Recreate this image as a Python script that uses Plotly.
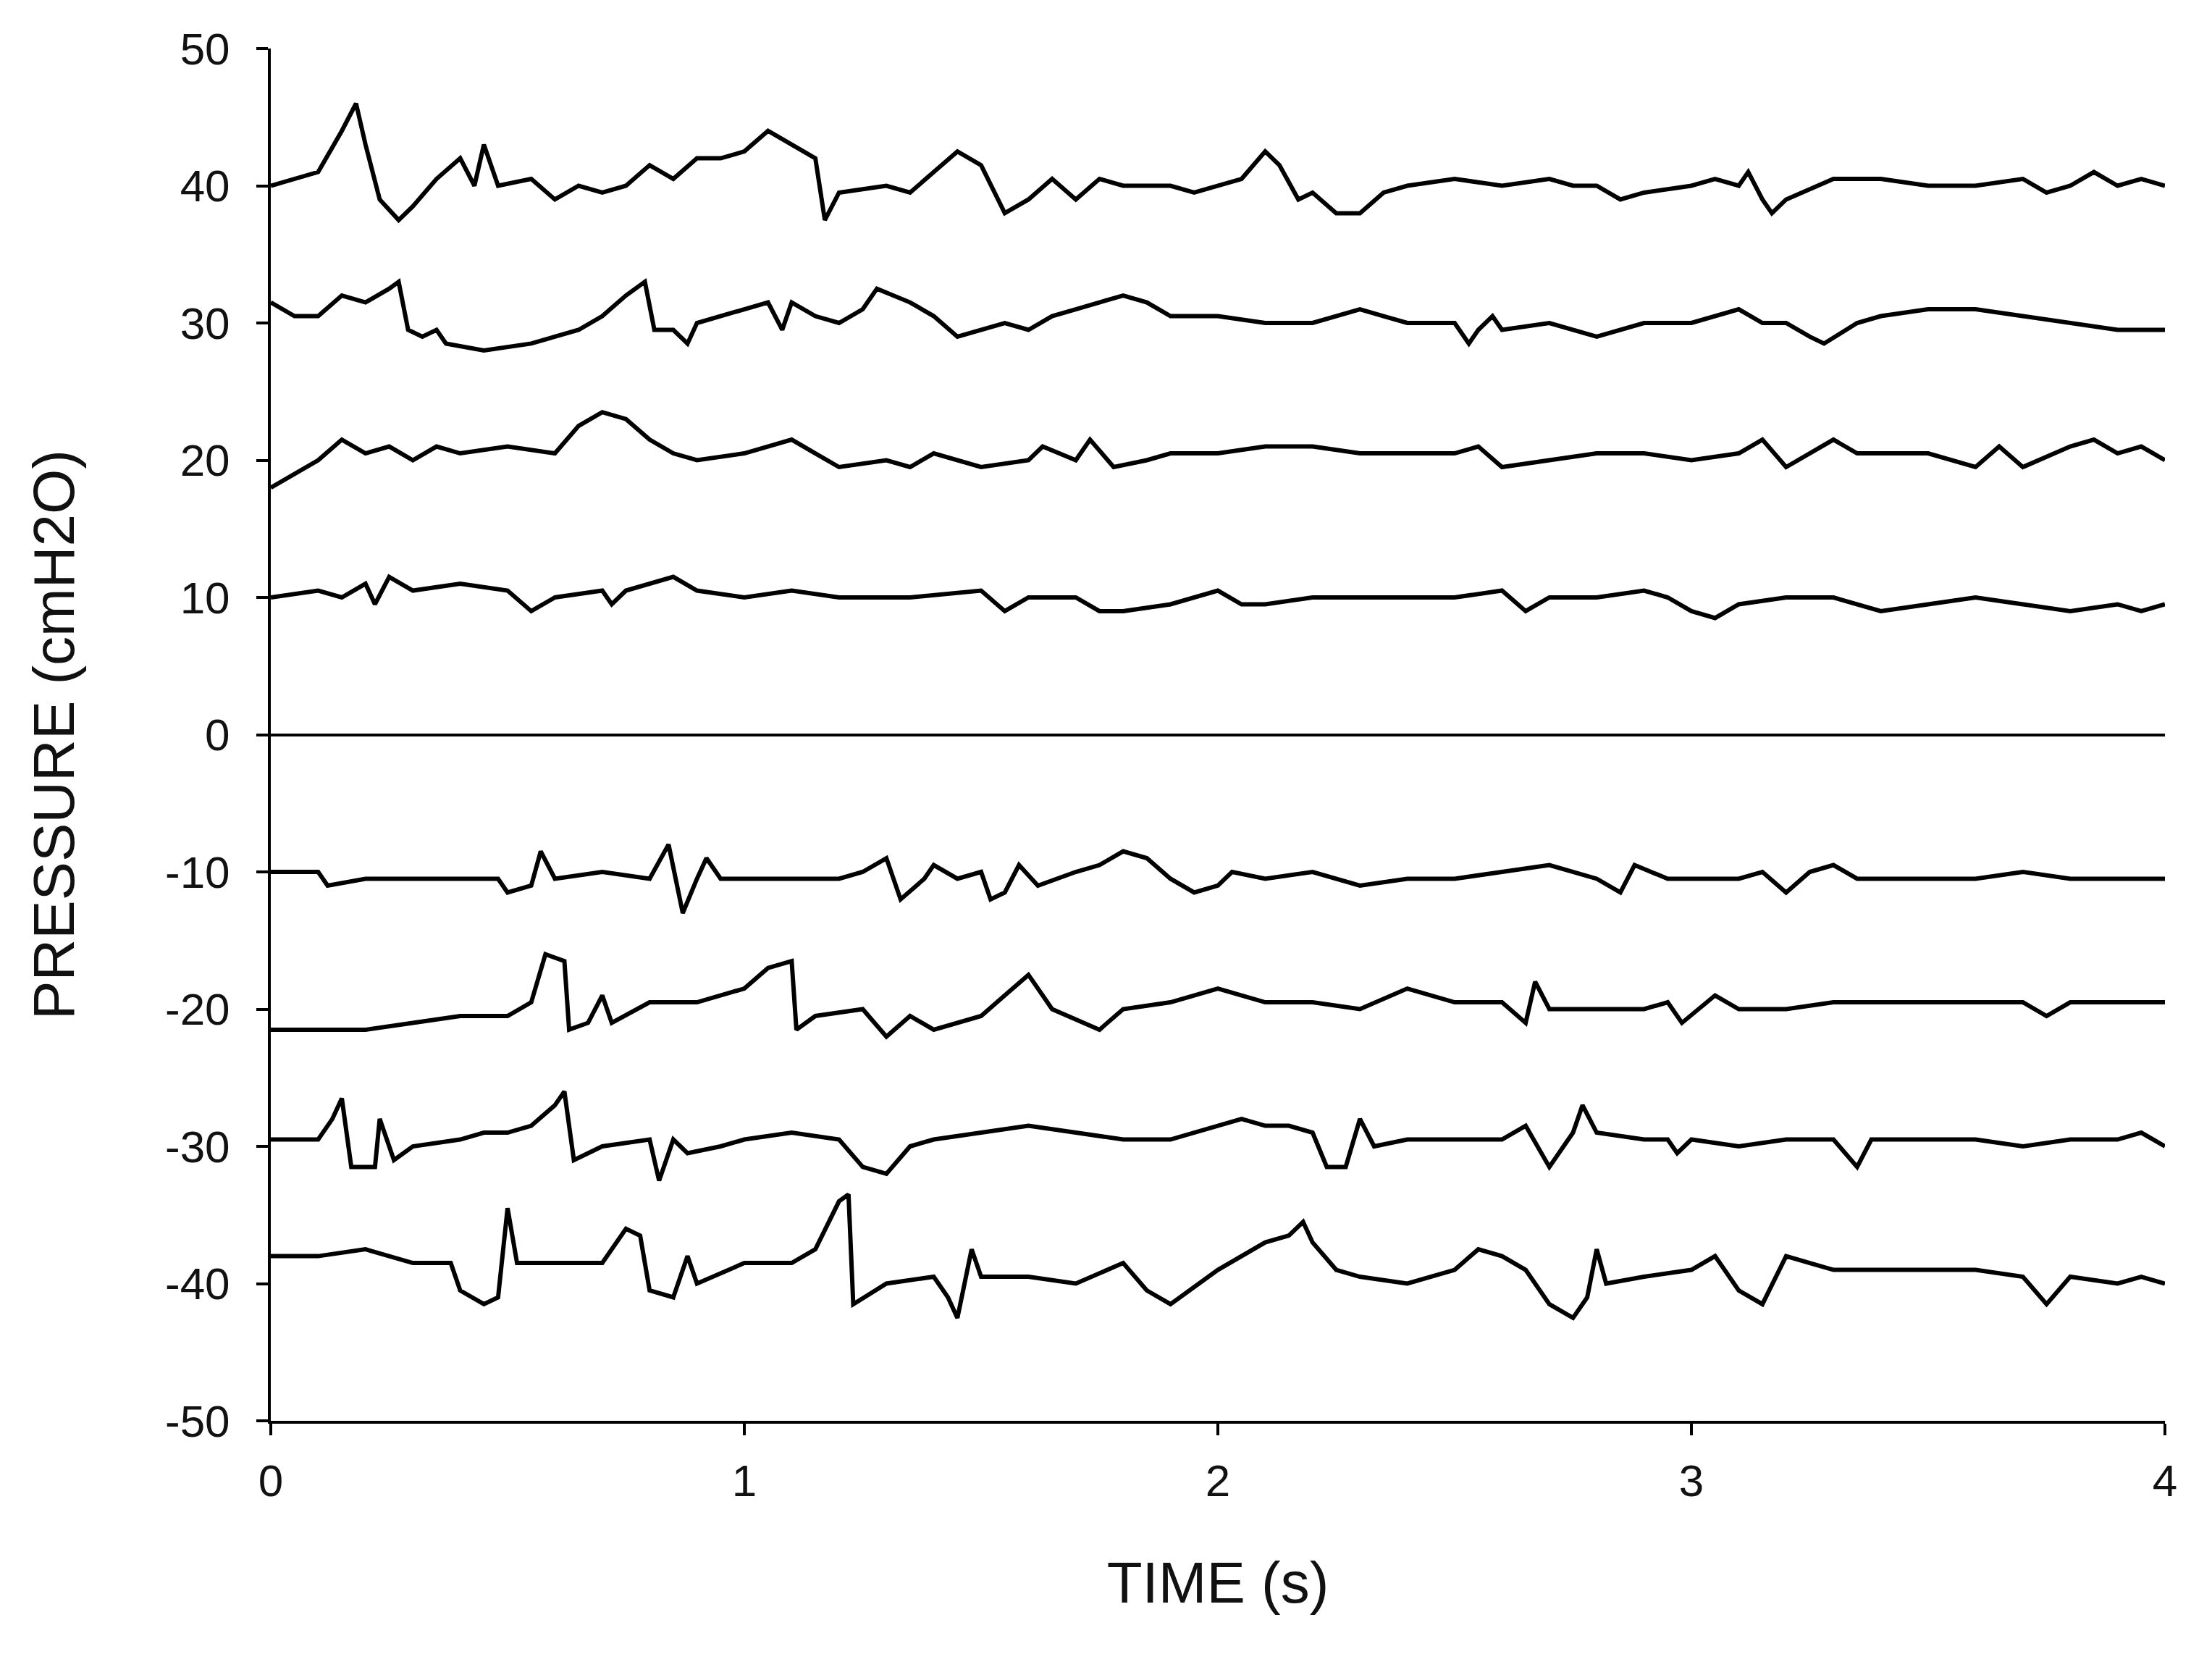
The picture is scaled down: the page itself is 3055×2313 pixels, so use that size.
import plotly.graph_objects as go

# Time points (s) and pressure readings (cmH2O), one pair of lists per trace
t1 = [0, 0.05, 0.1, 0.15, 0.18, 0.2, 0.23, 0.27, 0.3, 0.35, 0.4, 0.43, 0.45, 0.48, 0.55, 0.6, 0.65, 0.7, 0.75, 0.8, 0.85, 0.9, 0.95, 1.0, 1.05, 1.1, 1.15, 1.17, 1.2, 1.3, 1.35, 1.4, 1.45, 1.5, 1.55, 1.6, 1.65, 1.7, 1.75, 1.8, 1.9, 1.95, 2.0, 2.05, 2.1, 2.13, 2.17, 2.2, 2.25, 2.3, 2.35, 2.4, 2.5, 2.6, 2.7, 2.75, 2.8, 2.85, 2.9, 3.0, 3.05, 3.1, 3.12, 3.15, 3.17, 3.2, 3.3, 3.4, 3.5, 3.6, 3.7, 3.75, 3.8, 3.85, 3.9, 3.95, 4.0]
p1 = [40, 40.5, 41, 44, 46, 43, 39, 37.5, 38.5, 40.5, 42, 40, 43, 40, 40.5, 39, 40, 39.5, 40, 41.5, 40.5, 42, 42, 42.5, 44, 43, 42, 37.5, 39.5, 40, 39.5, 41, 42.5, 41.5, 38, 39, 40.5, 39, 40.5, 40, 40, 39.5, 40, 40.5, 42.5, 41.5, 39, 39.5, 38, 38, 39.5, 40, 40.5, 40, 40.5, 40, 40, 39, 39.5, 40, 40.5, 40, 41, 39, 38, 39, 40.5, 40.5, 40, 40, 40.5, 39.5, 40, 41, 40, 40.5, 40]

t2 = [0, 0.05, 0.1, 0.15, 0.2, 0.25, 0.27, 0.29, 0.32, 0.35, 0.37, 0.45, 0.55, 0.65, 0.7, 0.75, 0.79, 0.81, 0.85, 0.88, 0.9, 1.0, 1.05, 1.08, 1.1, 1.15, 1.2, 1.25, 1.28, 1.35, 1.4, 1.45, 1.5, 1.55, 1.6, 1.65, 1.7, 1.75, 1.8, 1.85, 1.9, 2.0, 2.1, 2.2, 2.3, 2.35, 2.4, 2.5, 2.53, 2.55, 2.58, 2.6, 2.7, 2.8, 2.9, 3.0, 3.05, 3.1, 3.15, 3.2, 3.25, 3.28, 3.35, 3.4, 3.5, 3.6, 3.7, 3.8, 3.9, 4.0]
p2 = [31.5, 30.5, 30.5, 32, 31.5, 32.5, 33, 29.5, 29, 29.5, 28.5, 28, 28.5, 29.5, 30.5, 32, 33, 29.5, 29.5, 28.5, 30, 31, 31.5, 29.5, 31.5, 30.5, 30, 31, 32.5, 31.5, 30.5, 29, 29.5, 30, 29.5, 30.5, 31, 31.5, 32, 31.5, 30.5, 30.5, 30, 30, 31, 30.5, 30, 30, 28.5, 29.5, 30.5, 29.5, 30, 29, 30, 30, 30.5, 31, 30, 30, 29, 28.5, 30, 30.5, 31, 31, 30.5, 30, 29.5, 29.5]

t3 = [0, 0.05, 0.1, 0.15, 0.2, 0.25, 0.3, 0.35, 0.4, 0.5, 0.6, 0.65, 0.7, 0.75, 0.8, 0.85, 0.9, 1.0, 1.1, 1.15, 1.2, 1.3, 1.35, 1.4, 1.5, 1.6, 1.63, 1.7, 1.73, 1.78, 1.85, 1.9, 2.0, 2.1, 2.2, 2.3, 2.4, 2.5, 2.55, 2.6, 2.7, 2.8, 2.9, 3.0, 3.1, 3.15, 3.2, 3.25, 3.3, 3.35, 3.5, 3.6, 3.65, 3.7, 3.8, 3.85, 3.9, 3.95, 4.0]
p3 = [18, 19, 20, 21.5, 20.5, 21, 20, 21, 20.5, 21, 20.5, 22.5, 23.5, 23, 21.5, 20.5, 20, 20.5, 21.5, 20.5, 19.5, 20, 19.5, 20.5, 19.5, 20, 21, 20, 21.5, 19.5, 20, 20.5, 20.5, 21, 21, 20.5, 20.5, 20.5, 21, 19.5, 20, 20.5, 20.5, 20, 20.5, 21.5, 19.5, 20.5, 21.5, 20.5, 20.5, 19.5, 21, 19.5, 21, 21.5, 20.5, 21, 20]

t4 = [0, 0.1, 0.15, 0.2, 0.22, 0.25, 0.3, 0.4, 0.5, 0.55, 0.6, 0.7, 0.72, 0.75, 0.85, 0.9, 1.0, 1.1, 1.2, 1.35, 1.5, 1.55, 1.6, 1.7, 1.75, 1.8, 1.9, 2.0, 2.05, 2.1, 2.2, 2.3, 2.4, 2.5, 2.6, 2.65, 2.7, 2.8, 2.9, 2.95, 3.0, 3.05, 3.1, 3.2, 3.3, 3.4, 3.5, 3.6, 3.7, 3.8, 3.9, 3.95, 4.0]
p4 = [10, 10.5, 10, 11, 9.5, 11.5, 10.5, 11, 10.5, 9, 10, 10.5, 9.5, 10.5, 11.5, 10.5, 10, 10.5, 10, 10, 10.5, 9, 10, 10, 9, 9, 9.5, 10.5, 9.5, 9.5, 10, 10, 10, 10, 10.5, 9, 10, 10, 10.5, 10, 9, 8.5, 9.5, 10, 10, 9, 9.5, 10, 9.5, 9, 9.5, 9, 9.5]

t5 = [0, 0.05, 0.1, 0.12, 0.2, 0.3, 0.4, 0.48, 0.5, 0.55, 0.57, 0.6, 0.7, 0.8, 0.84, 0.87, 0.9, 0.92, 0.95, 1.0, 1.1, 1.2, 1.25, 1.3, 1.33, 1.38, 1.4, 1.45, 1.5, 1.52, 1.55, 1.58, 1.62, 1.7, 1.75, 1.8, 1.85, 1.9, 1.95, 2.0, 2.03, 2.1, 2.2, 2.3, 2.4, 2.5, 2.6, 2.7, 2.8, 2.85, 2.88, 2.95, 3.0, 3.1, 3.15, 3.2, 3.25, 3.3, 3.35, 3.5, 3.6, 3.7, 3.8, 3.9, 4.0]
p5 = [-10, -10, -10, -11, -10.5, -10.5, -10.5, -10.5, -11.5, -11, -8.5, -10.5, -10, -10.5, -8, -13, -10.5, -9, -10.5, -10.5, -10.5, -10.5, -10, -9, -12, -10.5, -9.5, -10.5, -10, -12, -11.5, -9.5, -11, -10, -9.5, -8.5, -9, -10.5, -11.5, -11, -10, -10.5, -10, -11, -10.5, -10.5, -10, -9.5, -10.5, -11.5, -9.5, -10.5, -10.5, -10.5, -10, -11.5, -10, -9.5, -10.5, -10.5, -10.5, -10, -10.5, -10.5, -10.5]

t6 = [0, 0.1, 0.2, 0.3, 0.4, 0.5, 0.55, 0.58, 0.62, 0.63, 0.67, 0.7, 0.72, 0.8, 0.9, 1.0, 1.05, 1.1, 1.11, 1.15, 1.25, 1.3, 1.35, 1.4, 1.5, 1.55, 1.6, 1.65, 1.75, 1.8, 1.9, 2.0, 2.1, 2.2, 2.3, 2.4, 2.5, 2.6, 2.65, 2.67, 2.7, 2.8, 2.9, 2.95, 2.98, 3.05, 3.1, 3.2, 3.3, 3.5, 3.6, 3.7, 3.75, 3.8, 3.9, 4.0]
p6 = [-21.5, -21.5, -21.5, -21, -20.5, -20.5, -19.5, -16, -16.5, -21.5, -21, -19, -21, -19.5, -19.5, -18.5, -17, -16.5, -21.5, -20.5, -20, -22, -20.5, -21.5, -20.5, -19, -17.5, -20, -21.5, -20, -19.5, -18.5, -19.5, -19.5, -20, -18.5, -19.5, -19.5, -21, -18, -20, -20, -20, -19.5, -21, -19, -20, -20, -19.5, -19.5, -19.5, -19.5, -20.5, -19.5, -19.5, -19.5]

t7 = [0, 0.1, 0.13, 0.15, 0.17, 0.22, 0.23, 0.26, 0.3, 0.4, 0.45, 0.5, 0.55, 0.6, 0.62, 0.64, 0.7, 0.8, 0.82, 0.85, 0.88, 0.95, 1.0, 1.1, 1.2, 1.25, 1.3, 1.35, 1.4, 1.5, 1.6, 1.7, 1.8, 1.9, 2.0, 2.05, 2.1, 2.15, 2.2, 2.23, 2.27, 2.3, 2.33, 2.4, 2.5, 2.6, 2.65, 2.7, 2.75, 2.77, 2.8, 2.9, 2.95, 2.97, 3.0, 3.1, 3.2, 3.3, 3.35, 3.38, 3.5, 3.6, 3.7, 3.8, 3.9, 3.95, 4.0]
p7 = [-29.5, -29.5, -28, -26.5, -31.5, -31.5, -28, -31, -30, -29.5, -29, -29, -28.5, -27, -26, -31, -30, -29.5, -32.5, -29.5, -30.5, -30, -29.5, -29, -29.5, -31.5, -32, -30, -29.5, -29, -28.5, -29, -29.5, -29.5, -28.5, -28, -28.5, -28.5, -29, -31.5, -31.5, -28, -30, -29.5, -29.5, -29.5, -28.5, -31.5, -29, -27, -29, -29.5, -29.5, -30.5, -29.5, -30, -29.5, -29.5, -31.5, -29.5, -29.5, -29.5, -30, -29.5, -29.5, -29, -30]

t8 = [0, 0.1, 0.2, 0.3, 0.38, 0.4, 0.45, 0.48, 0.5, 0.52, 0.6, 0.7, 0.75, 0.78, 0.8, 0.85, 0.88, 0.9, 1.0, 1.1, 1.15, 1.2, 1.22, 1.23, 1.3, 1.4, 1.43, 1.45, 1.48, 1.5, 1.6, 1.7, 1.8, 1.85, 1.9, 2.0, 2.1, 2.15, 2.18, 2.2, 2.25, 2.3, 2.4, 2.5, 2.55, 2.6, 2.65, 2.7, 2.75, 2.78, 2.8, 2.82, 2.9, 3.0, 3.05, 3.1, 3.15, 3.2, 3.25, 3.3, 3.4, 3.5, 3.6, 3.7, 3.75, 3.8, 3.9, 3.95, 4.0]
p8 = [-38, -38, -37.5, -38.5, -38.5, -40.5, -41.5, -41, -34.5, -38.5, -38.5, -38.5, -36, -36.5, -40.5, -41, -38, -40, -38.5, -38.5, -37.5, -34, -33.5, -41.5, -40, -39.5, -41, -42.5, -37.5, -39.5, -39.5, -40, -38.5, -40.5, -41.5, -39, -37, -36.5, -35.5, -37, -39, -39.5, -40, -39, -37.5, -38, -39, -41.5, -42.5, -41, -37.5, -40, -39.5, -39, -38, -40.5, -41.5, -38, -38.5, -39, -39, -39, -39, -39.5, -41.5, -39.5, -40, -39.5, -40]

traces = [(t1, p1), (t2, p2), (t3, p3), (t4, p4), (t5, p5), (t6, p6), (t7, p7), (t8, p8)]

y_ticks = [-50, -40, -30, -20, -10, 0, 10, 20, 30, 40, 50]
y_labels = ["-50", "-40", "-30", "-20", "-10", "0", "10", "20", "30", "40", "50"]

fig = go.Figure()
for t, p in traces:
    fig.add_trace(go.Scatter(x=t, y=p, mode="lines", line=dict(color="black", width=6)))

font = dict(family="Liberation Sans, Arial, sans-serif", color="#111", size=62)

fig.update_layout(
    width=3055, height=2313,
    paper_bgcolor="white", plot_bgcolor="white",
    showlegend=False,
    font=font,
    margin=dict(l=366, r=73, t=59, b=359),
    xaxis=dict(
        range=[0, 4], tickvals=[0, 1, 2, 3, 4], showgrid=False, zeroline=False,
        showline=True, linecolor="black", linewidth=4,
        ticks="outside", ticklen=16, tickwidth=4, tickcolor="black",
        ticklabelstandoff=10,
        title=dict(text="TIME (s)", font=dict(size=80), standoff=80),
    ),
    yaxis=dict(
        range=[-50, 50], tickvals=y_ticks, ticktext=y_labels, showgrid=False,
        zeroline=True, zerolinecolor="black", zerolinewidth=4,
        showline=True, linecolor="black", linewidth=4,
        ticks="outside", ticklen=16, tickwidth=4, tickcolor="black",
        ticklabelstandoff=24,
        title=dict(text="PRESSURE (cmH2O)", font=dict(size=80), standoff=100),
    ),
)

fig.write_html("out.html")
